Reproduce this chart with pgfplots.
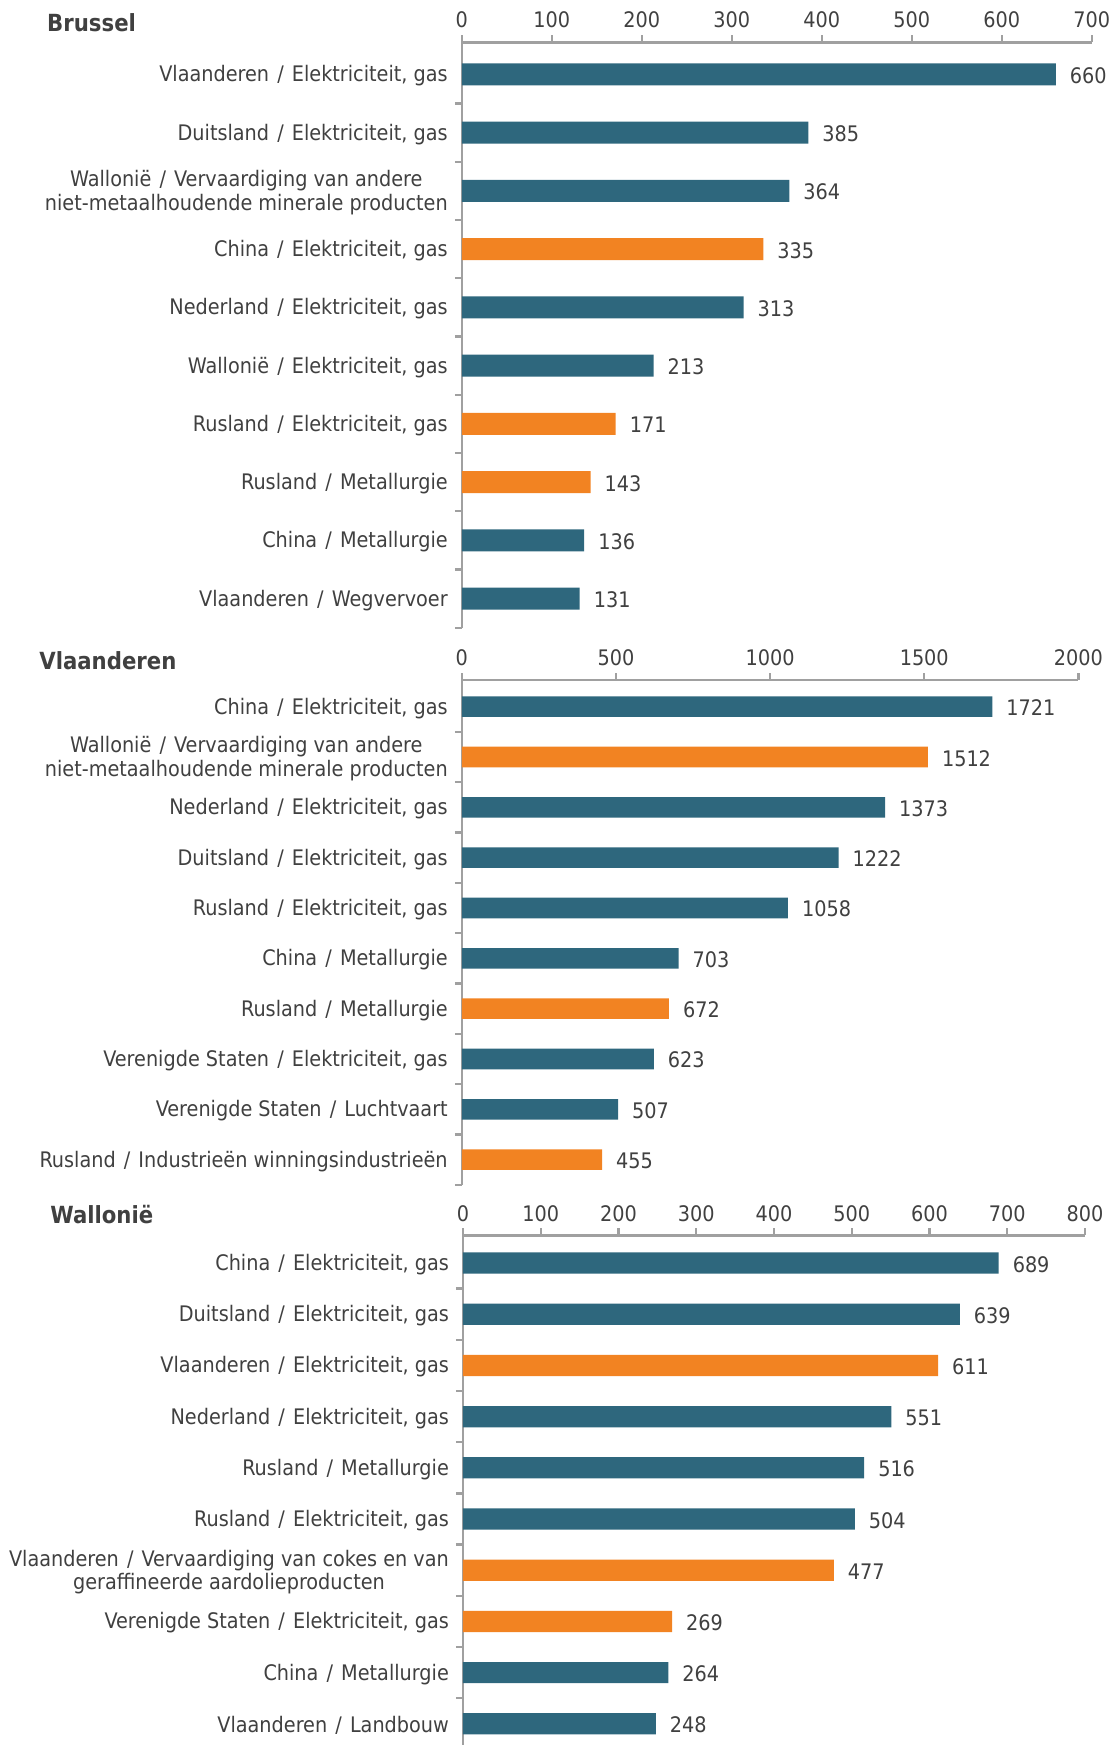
\documentclass[border=0pt]{standalone}
\usepackage{fontspec}
\setmainfont{DejaVu Sans Condensed}
\usepackage{pgfplots}
\pgfplotsset{compat=1.18}
\definecolor{tealbar}{RGB}{46,103,125}
\definecolor{orangebar}{RGB}{242,131,34}
\definecolor{txt}{RGB}{64,64,64}
\definecolor{axgray}{RGB}{160,160,160}
\newcommand{\lblfont}{\fontsize{10.7}{11.7}\selectfont}
\newcommand{\sep}{\hspace{0.38em}/\hspace{0.38em}}
\pgfplotsset{
  regstyle/.style={
    scale only axis, xbar, bar shift=0pt,
    axis x line*=top, axis y line*=left,
    axis line style={axgray, line width=1.2pt},
    xmin=0, ymin=-0.5,
    ytick={-0.5,0.5,1.5,2.5,3.5,4.5,5.5,6.5,7.5,8.5},
    yticklabels={},
    extra y ticks={9,8,7,6,5,4,3,2,1,0},
    extra y tick style={tick style={draw=none}, yticklabel style={align=center, font=\lblfont, text=txt, yshift=-0.8pt}},
    tick align=outside,
    major tick length=3.5pt,
    every tick/.style={axgray, line width=1.2pt},
    tick label style={font=\lblfont, text=txt},
    /pgf/number format/assume math mode=true,
    /pgf/number format/1000 sep={},
    point meta=x,
    nodes near coords,
    nodes near coords style={font=\lblfont, text=txt, anchor=west, xshift=3.5pt, yshift=-0.6pt},
    clip=false,
  }
}
\begin{document}
\begin{tikzpicture}
\path[use as bounding box] (0,0) rectangle (556.5pt,-872.5pt);
\node[anchor=west, inner sep=0pt, text=txt, font=\bfseries\fontsize{11.8}{14}\selectfont] at (23.4pt,-11.5pt) {Brussel};
\node[anchor=west, inner sep=0pt, text=txt, font=\bfseries\fontsize{11.8}{14}\selectfont] at (19.5pt,-330.5pt) {Vlaanderen};
\node[anchor=west, inner sep=0pt, text=txt, font=\bfseries\fontsize{11.8}{14}\selectfont] at (25pt,-607.5pt) {Wallonië};

% Brussel
\begin{axis}[regstyle, at={(230.9pt,-21.15pt)}, anchor=north west,
  width=315pt, height=292.7pt, xmax=700, ymax=9.55, bar width=11pt,
  xtick={0,100,...,700},
  extra y tick labels={{Vlaanderen\sep Elektriciteit, gas},{Duitsland\sep Elektriciteit, gas},{Wallonië\sep Vervaardiging van andere\\niet-metaalhoudende minerale producten},{China\sep Elektriciteit, gas},{Nederland\sep Elektriciteit, gas},{Wallonië\sep Elektriciteit, gas},{Rusland\sep Elektriciteit, gas},{Rusland\sep Metallurgie},{China\sep Metallurgie},{Vlaanderen\sep Wegvervoer}}]
\addplot[fill=tealbar, draw=none] coordinates {(660,9) (385,8) (364,7) (313,5) (213,4) (136,1) (131,0)};
\addplot[fill=orangebar, draw=none] coordinates {(335,6) (171,3) (143,2)};
\end{axis}

% Vlaanderen
\begin{axis}[regstyle, at={(230.9pt,-340pt)}, anchor=north west,
  width=308.3pt, height=252.4pt, xmax=2000, ymax=9.53, bar width=10.3pt,
  xtick={0,500,...,2000},
  extra y tick labels={{China\sep Elektriciteit, gas},{Wallonië\sep Vervaardiging van andere\\niet-metaalhoudende minerale producten},{Nederland\sep Elektriciteit, gas},{Duitsland\sep Elektriciteit, gas},{Rusland\sep Elektriciteit, gas},{China\sep Metallurgie},{Rusland\sep Metallurgie},{Verenigde Staten\sep Elektriciteit, gas},{Verenigde Staten\sep Luchtvaart},{Rusland\sep Industrieën winningsindustrieën}}]
\addplot[fill=tealbar, draw=none] coordinates {(1721,9) (1373,7) (1222,6) (1058,5) (703,4) (623,2) (507,1)};
\addplot[fill=orangebar, draw=none] coordinates {(1512,8) (672,3) (455,0)};
\end{axis}

% Wallonie
\begin{axis}[regstyle, at={(231.5pt,-617.7pt)}, anchor=north west,
  width=311pt, height=257pt, xmax=800, ymax=9.54, bar width=10.6pt,
  xtick={0,100,...,800},
  extra y tick labels={{China\sep Elektriciteit, gas},{Duitsland\sep Elektriciteit, gas},{Vlaanderen\sep Elektriciteit, gas},{Nederland\sep Elektriciteit, gas},{Rusland\sep Metallurgie},{Rusland\sep Elektriciteit, gas},{Vlaanderen\sep Vervaardiging van cokes en van\\geraffineerde aardolieproducten},{Verenigde Staten\sep Elektriciteit, gas},{China\sep Metallurgie},{Vlaanderen\sep Landbouw}}]
\addplot[fill=tealbar, draw=none] coordinates {(689,9) (639,8) (551,6) (516,5) (504,4) (264,1) (248,0)};
\addplot[fill=orangebar, draw=none] coordinates {(611,7) (477,3) (269,2)};
\end{axis}
\end{tikzpicture}
\end{document}
